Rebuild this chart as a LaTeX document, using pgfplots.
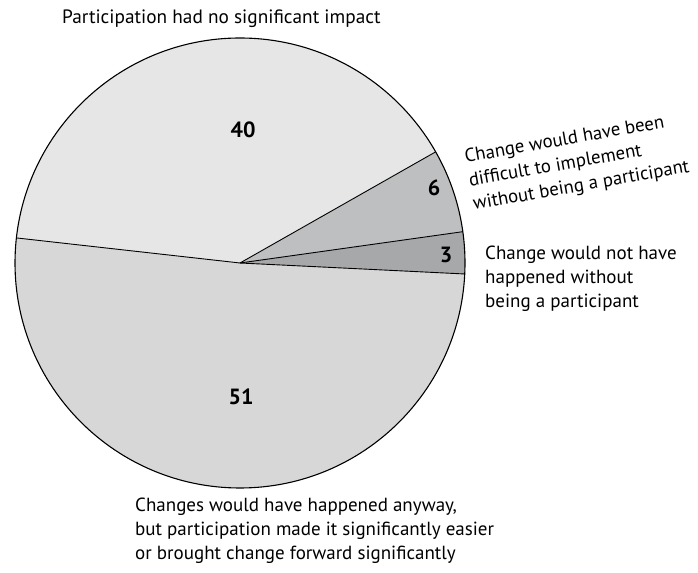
\documentclass[border=0pt]{standalone}
\usepackage{pgfplots}
\usepackage{pgfplotstable}
\pgfplotsset{compat=1.18}
\usepackage{fontspec}
\setmainfont{PT Sans}
\definecolor{c3}{HTML}{A7A8AA}
\definecolor{c6}{HTML}{BEBFC0}
\definecolor{c40}{HTML}{E6E6E7}
\definecolor{c51}{HTML}{D7D7D7}

\pgfplotstableread{
value
3
6
40
51
}\piedata

\begin{document}%
\begin{tikzpicture}
\pgfplotstablegetelem{0}{value}\of\piedata \edef\vA{\pgfplotsretval}
\pgfplotstablegetelem{1}{value}\of\piedata \edef\vB{\pgfplotsretval}
\pgfplotstablegetelem{2}{value}\of\piedata \edef\vC{\pgfplotsretval}
\pgfplotstablegetelem{3}{value}\of\piedata \edef\vD{\pgfplotsretval}
\pgfmathsetmacro\aA{-2.8}
\pgfmathsetmacro\aB{\aA+3.6*\vA}
\pgfmathsetmacro\aC{\aB+3.6*\vB}
\pgfmathsetmacro\aD{\aC+3.6*\vC}
\pgfmathsetmacro\aE{\aD+3.6*\vD}
\def\R{225bp}
\begin{axis}[scale only axis, width=698bp, height=573bp, at={(0,0)}, anchor=south west,
  xmin=0, xmax=698, ymin=0, ymax=573, hide axis, clip=false, ticks=none]
\path (axis cs:0,0) rectangle (axis cs:698,573);
\fill[c3]  (axis cs:240,310) -- ++(\aA:\R) arc[start angle=\aA, end angle=\aB, radius=\R] -- cycle;
\fill[c6]  (axis cs:240,310) -- ++(\aB:\R) arc[start angle=\aB, end angle=\aC, radius=\R] -- cycle;
\fill[c40] (axis cs:240,310) -- ++(\aC:\R) arc[start angle=\aC, end angle=\aD, radius=\R] -- cycle;
\fill[c51] (axis cs:240,310) -- ++(\aD:\R) arc[start angle=\aD, end angle=\aE, radius=\R] -- cycle;
\draw[line width=1.1bp] (axis cs:240,310) circle[radius=\R];
\draw[line width=0.9bp] (axis cs:240,310) -- ++(\aA:\R);
\draw[line width=0.9bp] (axis cs:240,310) -- ++(\aB:\R);
\draw[line width=0.9bp] (axis cs:240,310) -- ++(\aC:\R);
\draw[line width=0.9bp] (axis cs:240,310) -- ++(\aD:\R);
\node[font=\bfseries\fontsize{22bp}{26bp}\selectfont] at (axis cs:446,318) {\vA};
\node[font=\bfseries\fontsize{22bp}{26bp}\selectfont] at (axis cs:434,385) {\vB};
\node[font=\bfseries\fontsize{22bp}{26bp}\selectfont] at (axis cs:243,443) {\vC};
\node[font=\bfseries\fontsize{22bp}{26bp}\selectfont] at (axis cs:241,176) {\vD};
\node[anchor=base west, inner sep=0pt, font=\fontsize{19.3bp}{24bp}\selectfont] at (axis cs:62,549) {Participation had no significant impact};
\node[anchor=base west, inner sep=0pt, rotate=10, align=left, font=\fontsize{18.8bp}{24bp}\selectfont] at (axis cs:474,363) {Change would have been\\difficult to implement\\without being a participant};
\node[anchor=base west, inner sep=0pt, align=left, font=\fontsize{19bp}{24bp}\selectfont] at (axis cs:485,265) {Change would not have\\happened without\\being a participant};
\node[anchor=base west, inner sep=0pt, align=left, font=\fontsize{19bp}{24bp}\selectfont] at (axis cs:135,14) {Changes would have happened anyway,\\but participation made it significantly easier\\or brought change forward significantly};
\end{axis}
\pgfresetboundingbox
\path (0,0) rectangle (698bp,573bp);
\end{tikzpicture}%
\end{document}
